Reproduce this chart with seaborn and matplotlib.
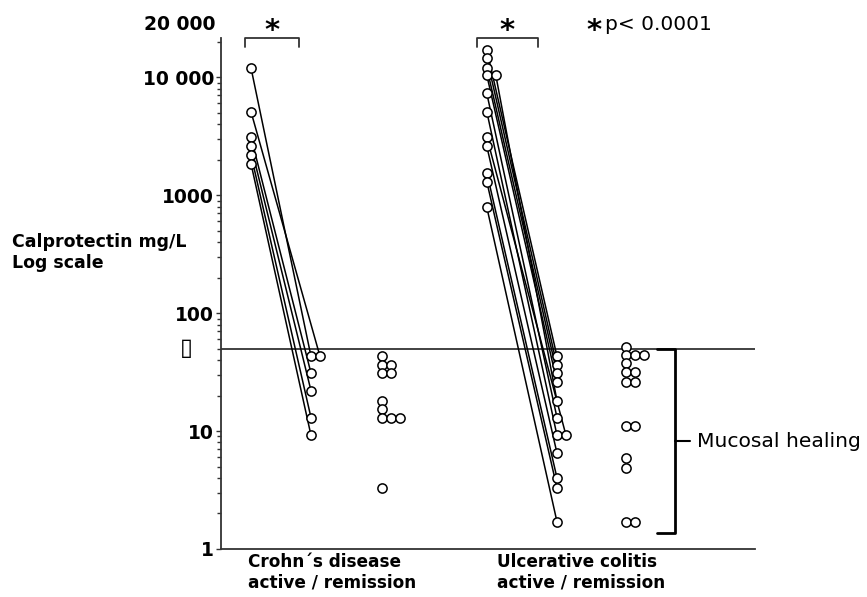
import numpy as np
import pandas as pd
import seaborn as sns
import matplotlib.pyplot as plt
from matplotlib import transforms
from matplotlib.ticker import LogLocator, FixedLocator, FixedFormatter, NullFormatter

# ---------------- data ----------------
cd_active = [12000, 5100, 3100, 2600, 2200, 1850]
cd_remission = [43, 43, 31, 22, 13, 9.2]
cd_unpaired = [43, 36, 36, 31, 31, 18, 15.5, 13, 13, 13, 3.3]

uc_active = [17000, 14500, 12000, 10400, 10400, 7300, 5100, 3100, 2600, 1550, 1300, 790]
uc_remission = [43, 36, 31, 26, 18, 13, 9.2, 9.2, 6.5, 4.0, 3.3, 1.7]
uc_unpaired = [52, 44, 44, 44, 38, 31.5, 31.5, 26, 26, 11, 11, 5.9, 4.9, 1.7, 1.7]

mucosal_threshold = 50
ytick_values = [1, 10, 100, 1000, 10000]
ytick_labels = ["1", "10", "100", "1000", "10 000"]
group_labels = ["Crohn\u00b4s disease\nactive / remission", "Ulcerative colitis\nactive / remission"]

# ---------------- layout ----------------
POS = {"cd_a": 0.5, "cd_r": 1.5, "cd_u": 2.68, "uc_a": 4.43, "uc_r": 5.6, "uc_u": 6.75}
STEP = 0.15  # horizontal shift for equal values


def place(values, pos):
    seen = {}
    xs = []
    for v in values:
        k = seen.get(v, 0)
        xs.append(pos + k * STEP)
        seen[v] = k + 1
    return xs


rows = []
pair_rows = []
for name, vals in [("cd_a", cd_active), ("cd_r", cd_remission), ("cd_u", cd_unpaired),
                   ("uc_a", uc_active), ("uc_r", uc_remission), ("uc_u", uc_unpaired)]:
    xs = place(vals, POS[name])
    for i, (x, v) in enumerate(zip(xs, vals)):
        rows.append({"group": name, "x": x, "value": v, "idx": i})
points = pd.DataFrame(rows)

for prefix in ["cd", "uc"]:
    a = points[points.group == prefix + "_a"].sort_values("idx")
    r = points[points.group == prefix + "_r"].sort_values("idx")
    for (_, ra), (_, rr) in zip(a.iterrows(), r.iterrows()):
        pid = f"{prefix}{ra.idx}"
        pair_rows.append({"pid": pid, "x": ra.x, "value": ra.value})
        pair_rows.append({"pid": pid, "x": rr.x, "value": rr.value})
pairs = pd.DataFrame(pair_rows)

# ---------------- figure ----------------
sns.set_theme(style="white")
plt.rcParams["font.family"] = ["DejaVu Sans"]
plt.rcParams["text.color"] = "black"
plt.rcParams["ytick.color"] = "black"

fig = plt.figure(figsize=(8.67, 5.97), dpi=100)
ax = fig.add_axes([221 / 867, 1 - 549 / 597, 534 / 867, 511 / 597])
ax.set_yscale("log")

ax.axhline(mucosal_threshold, color="#333333", lw=1.3, zorder=1)

sns.lineplot(data=pairs, x="x", y="value", units="pid", estimator=None, sort=False,
             color="black", lw=1.1, ax=ax, legend=False, zorder=2)
sns.scatterplot(data=points, x="x", y="value", marker="o", s=44, color="white",
                edgecolor="black", linewidth=1.1, ax=ax, legend=False, zorder=3, clip_on=False)

ax.set_xlim(0, 8.9)
ax.set_ylim(1, 21500)

for s in ["top", "right"]:
    ax.spines[s].set_visible(False)
for s in ["left", "bottom"]:
    ax.spines[s].set_color("#333333")
    ax.spines[s].set_linewidth(1.3)

ax.yaxis.set_major_locator(FixedLocator(ytick_values))
ax.yaxis.set_major_formatter(FixedFormatter(ytick_labels))
ax.yaxis.set_minor_locator(LogLocator(base=10, subs=np.arange(2, 10)))
ax.yaxis.set_minor_formatter(NullFormatter())
ax.tick_params(axis="y", which="both", left=True, direction="out", color="#333333", width=1, pad=1.5,
               labelcolor="black")
ax.tick_params(axis="y", which="major", length=3.5, labelsize=13.5)
ax.tick_params(axis="y", which="minor", length=3)
for lab in ax.get_yticklabels():
    lab.set_fontweight("bold")
ax.tick_params(axis="x", bottom=False, labelbottom=False)
ax.set_xlabel("")
ax.set_ylabel("")

ax.text(-0.011, 1.027, "20 000", transform=ax.transAxes, ha="right", va="center",
        fontsize=13.5, fontweight="bold")
ax.text(-0.064, 0.393, "\u25af", transform=ax.transAxes, ha="center", va="center", fontsize=17)

fig.text(12 / 867, 1 - 233 / 597, "Calprotectin mg/L\nLog scale", ha="left", va="top",
         fontsize=12.5, fontweight="bold", linespacing=1.25)

bt = transforms.blended_transform_factory(ax.transData, ax.transAxes)
ax.text(27 / 60, -0.008, group_labels[0], transform=bt, ha="left", va="top", fontsize=12.2,
        fontweight="bold", linespacing=1.15)
ax.text(276 / 60, -0.008, group_labels[1], transform=bt, ha="left", va="top", fontsize=12.2,
        fontweight="bold", linespacing=1.15)

# significance brackets
for x0, x1 in [(24 / 60, 78 / 60), (256 / 60, 317 / 60)]:
    ax.plot([x0, x0, x1, x1], [0.982, 1.0, 1.0, 0.982], transform=bt, color="#333333", lw=1.3,
            clip_on=False)
    ax.text((x0 + x1) / 2, 0.999, "*", transform=bt, ha="center", va="baseline", fontsize=21,
            fontweight="bold")
ax.text(365 / 60, 0.999, "*", transform=bt, ha="left", va="baseline", fontsize=21, fontweight="bold")
ax.text(384 / 60, 1.027, "p< 0.0001", transform=bt, ha="left", va="center", fontsize=14.5)

# mucosal healing bracket
bx0, bx1, bx2 = 436 / 60, 454 / 60, 469 / 60
ytop, ybot = 49.3, 1.37
ymid = np.sqrt(ytop * ybot)
ax.plot([bx0, bx1, bx1, bx0], [ytop, ytop, ybot, ybot], color="black", lw=2, clip_on=False)
ax.plot([bx1, bx2], [ymid, ymid], color="black", lw=1.5, clip_on=False)
ax.text(476 / 60, ymid, "Mucosal healing", ha="left", va="center", fontsize=14.6, clip_on=False)

fig.savefig("out.png", dpi=100)
